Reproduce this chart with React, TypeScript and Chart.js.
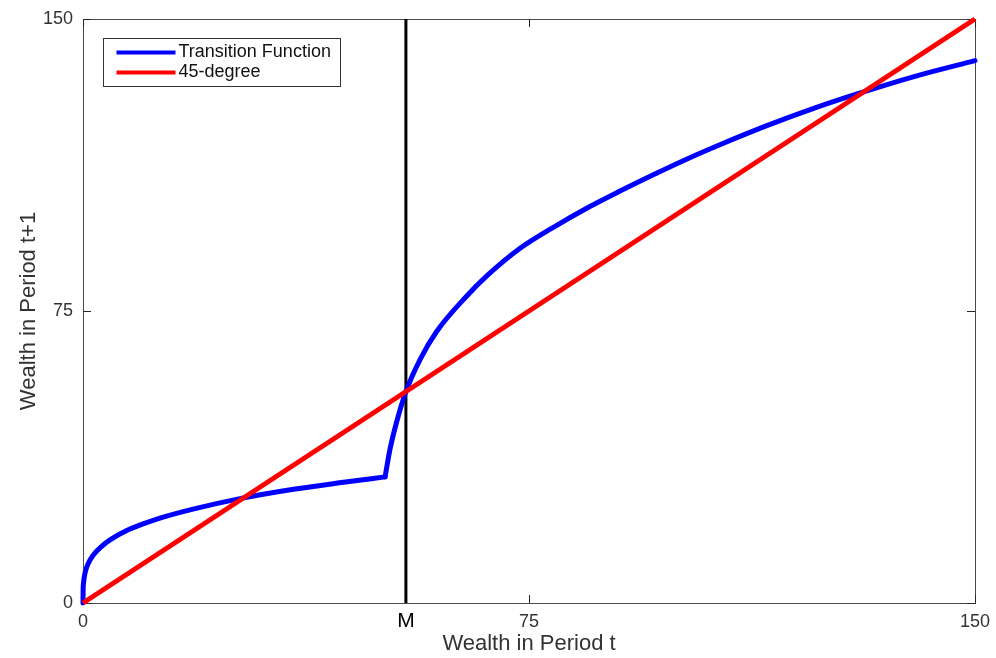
import React, { useEffect, useRef } from 'react';
import { Chart, registerables } from 'chart.js';

Chart.register(...registerables);

const FONT = "'Liberation Sans', Arial, Helvetica, sans-serif";

const M_VALUE = 54.3;
const xTickValues = [0, M_VALUE, 75, 150];
const xTickLabels = ['0', 'M', '75', '150'];
const yTickValues = [0, 75, 150];
const yTickLabels = ['0', '75', '150'];

const seriesLabels = ['Transition Function', '45-degree'];

// Transition function, below the kink
const lowerBranchX = [0, 0.02, 0.08, 0.34, 0.9, 1.73, 3.1, 4.54, 7.35, 10.1, 12.95, 18.5, 26.4, 35.4, 43.8, 50.8];
const lowerBranchY = [0, 3.2, 5.0, 7.7, 10.2, 12.3, 14.5, 16.2, 18.6, 20.3, 21.8, 24.1, 26.8, 29.2, 31.0, 32.4];

// Transition function, from the kink up
const upperBranchX = [
  50.8, 51.6, 52.75, 54.3, 56.7, 59.5, 64.5, 67.9, 73.5, 79.1, 84.7, 90.3, 95.9, 101.5, 107.1, 115, 123,
  130.7, 140.2, 150,
];
const upperBranchY = [
  32.4, 39.3, 46.55, 54.3, 62.6, 69.8, 78.8, 84.0, 91.1, 96.5, 101.4, 105.8, 110.0, 114.0, 117.7, 122.6, 127.1,
  131.0, 135.4, 139.3,
];

const degreeX = [0, 150];
const degreeY = [0, 150];

const mLineX = [M_VALUE, M_VALUE];
const mLineY = [0, 150];

const toPoints = (xs: number[], ys: number[]) => xs.map((x, i) => ({ x, y: ys[i] }));

const clearPadding = (s: any) => {
  s.paddingLeft = 0;
  s.paddingRight = 0;
  s.paddingTop = 0;
  s.paddingBottom = 0;
};

const framePlugin = {
  id: 'matlabFrame',
  beforeDatasetsDraw(chart: any) {
    const { ctx, chartArea } = chart;
    const { left, right, top, bottom } = chartArea;
    ctx.save();
    ctx.strokeStyle = '#4a4a4a';
    ctx.lineWidth = 1;
    ctx.strokeRect(Math.round(left) + 0.5, Math.round(top) + 0.5, Math.round(right - left), Math.round(bottom - top));
    const tl = 8;
    const xs = chart.scales.x;
    const ys = chart.scales.y;
    ctx.strokeStyle = '#262626';
    ctx.beginPath();
    xs.ticks.forEach((t: any) => {
      const px = Math.round(xs.getPixelForValue(t.value)) + 0.5;
      ctx.moveTo(px, bottom);
      ctx.lineTo(px, bottom - tl);
      ctx.moveTo(px, top);
      ctx.lineTo(px, top + tl);
    });
    ys.ticks.forEach((t: any) => {
      const py = Math.round(ys.getPixelForValue(t.value)) + 0.5;
      ctx.moveTo(left, py);
      ctx.lineTo(left + tl, py);
      ctx.moveTo(right, py);
      ctx.lineTo(right - tl, py);
    });
    ctx.stroke();
    ctx.restore();
  },
  afterDatasetsDraw(chart: any) {
    const { ctx, chartArea } = chart;
    const entries = chart.data.datasets
      .filter((d: any) => d.legendIndex !== undefined)
      .sort((a: any, b: any) => a.legendIndex - b.legendIndex);
    const boxX = chartArea.left + 20.5;
    const boxY = chartArea.top + 19.5;
    const boxW = 237;
    const boxH = 48;
    ctx.save();
    ctx.fillStyle = '#ffffff';
    ctx.fillRect(boxX, boxY, boxW, boxH);
    ctx.strokeStyle = '#333333';
    ctx.lineWidth = 1;
    ctx.strokeRect(boxX, boxY, boxW, boxH);
    ctx.font = `18px ${FONT}`;
    ctx.textBaseline = 'alphabetic';
    ctx.textAlign = 'left';
    entries.forEach((d: any, i: number) => {
      const ly = boxY + 14 + i * 20;
      ctx.strokeStyle = d.borderColor;
      ctx.lineWidth = 4;
      ctx.beginPath();
      ctx.moveTo(boxX + 13, ly);
      ctx.lineTo(boxX + 72, ly);
      ctx.stroke();
      ctx.fillStyle = '#111111';
      ctx.fillText(d.label, boxX + 75, ly + 4.5);
    });
    ctx.restore();
  },
};

export default function App() {
  const canvasRef = useRef<HTMLCanvasElement | null>(null);

  useEffect(() => {
    if (!canvasRef.current) return;
    const blue = '#0000ff';
    const chart = new Chart(canvasRef.current, {
      type: 'line',
      data: {
        datasets: [
          {
            label: seriesLabels[1],
            data: toPoints(degreeX, degreeY),
            borderColor: '#ff0000',
            borderWidth: 5,
            pointRadius: 0,
            tension: 0,
            order: 0,
            clip: false,
            legendIndex: 1,
          } as any,
          {
            label: seriesLabels[0],
            data: toPoints(lowerBranchX, lowerBranchY),
            borderColor: blue,
            borderWidth: 5,
            borderCapStyle: 'round',
            pointRadius: 0,
            cubicInterpolationMode: 'monotone',
            order: 1,
            clip: false,
            legendIndex: 0,
          } as any,
          {
            label: seriesLabels[0],
            data: toPoints(upperBranchX, upperBranchY),
            borderColor: blue,
            borderWidth: 5,
            borderCapStyle: 'round',
            pointRadius: 0,
            cubicInterpolationMode: 'monotone',
            order: 1,
            clip: false,
          } as any,
          {
            label: 'M',
            data: toPoints(mLineX, mLineY),
            borderColor: '#000000',
            borderWidth: 3,
            pointRadius: 0,
            tension: 0,
            order: 2,
            clip: false,
          } as any,
        ],
      },
      options: {
        responsive: false,
        animation: false,
        events: [],
        layout: { padding: { top: 19, right: 21, left: 0, bottom: 0 } },
        plugins: {
          legend: { display: false },
          tooltip: { enabled: false },
        },
        scales: {
          x: {
            type: 'linear',
            min: 0,
            max: 150,
            afterFit: (s: any) => {
              s.height = 55;
              clearPadding(s);
            },
            afterBuildTicks: (s: any) => {
              s.ticks = xTickValues.map((v) => ({ value: v }));
            },
            grid: { display: false, drawTicks: false },
            border: { display: false },
            ticks: {
              autoSkip: false,
              maxRotation: 0,
              padding: 8,
              color: (c: any) => (c.index === 1 ? '#000000' : '#333333'),
              font: (c: any) =>
                c.index === 1
                  ? { family: FONT, size: 21, lineHeight: 1.0 }
                  : { family: FONT, size: 18, lineHeight: 1.2 },
              callback: (_v: any, i: number) => xTickLabels[i],
            },
            title: {
              display: true,
              text: 'Wealth in Period t',
              color: '#333333',
              font: { family: FONT, size: 22 },
              padding: { top: 0, bottom: 1 },
            },
          },
          y: {
            type: 'linear',
            min: 0,
            max: 150,
            afterFit: (s: any) => {
              s.width = 83;
              clearPadding(s);
            },
            afterBuildTicks: (s: any) => {
              s.ticks = yTickValues.map((v) => ({ value: v }));
            },
            grid: { display: false, drawTicks: false },
            border: { display: false },
            ticks: {
              autoSkip: false,
              padding: 10,
              color: '#333333',
              font: { family: FONT, size: 18 },
              callback: (_v: any, i: number) => yTickLabels[i],
            },
            title: {
              display: true,
              text: 'Wealth in Period t+1',
              color: '#333333',
              font: { family: FONT, size: 22 },
              padding: { top: 16, bottom: 0 },
            },
          },
        },
      },
      plugins: [framePlugin],
    });
    return () => chart.destroy();
  }, []);

  return (
    <div style={{ position: 'absolute', left: 0, top: 0, width: 996, height: 658, background: '#ffffff' }}>
      <canvas ref={canvasRef} width={996} height={658} style={{ display: 'block' }} />
    </div>
  );
}
